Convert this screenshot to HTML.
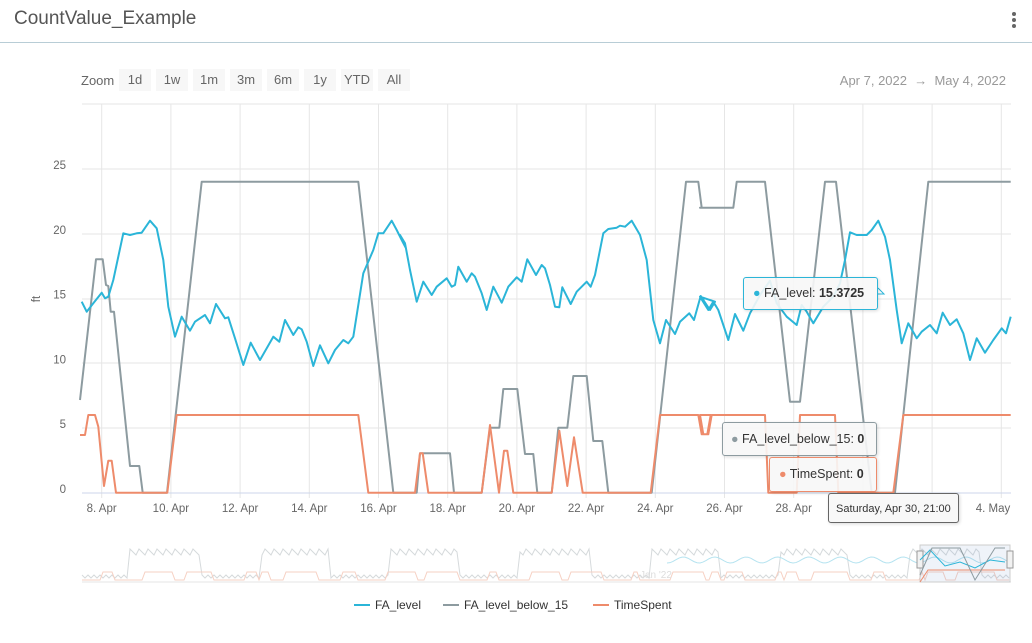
<!DOCTYPE html>
<html><head><meta charset="utf-8"><style>
body{margin:0;width:1032px;height:643px;background:#fff;font-family:"Liberation Sans",sans-serif;overflow:hidden;position:relative}
.t{position:absolute;white-space:nowrap}
.btn{position:absolute;top:69px;height:22px;width:32px;background:#f7f7f7;color:#666;font-size:13px;line-height:22px;text-align:center}
.tip{position:absolute;background:rgba(247,247,247,0.9);border:1px solid;border-radius:3px;font-size:12.5px;color:#333;box-sizing:border-box;box-shadow:1px 1px 3px rgba(0,0,0,.15)}
</style></head><body>
<div class="t" style="left:14px;top:8px;font-size:19px;color:#555">CountValue_Example</div>
<div style="position:absolute;left:0;top:42px;width:1032px;height:1px;background:#b8cdd6"></div>
<div style="position:absolute;left:1012px;top:12px;width:4px;height:4px;border-radius:2px;background:#666;box-shadow:0 6px 0 #666,0 12px 0 #666"></div>
<div class="t" style="left:81px;top:73px;font-size:13px;color:#666">Zoom</div>
<div class="btn" style="left:119px">1d</div><div class="btn" style="left:156px">1w</div><div class="btn" style="left:193px">1m</div><div class="btn" style="left:230px">3m</div><div class="btn" style="left:267px">6m</div><div class="btn" style="left:304px">1y</div><div class="btn" style="left:341px">YTD</div><div class="btn" style="left:378px">All</div>
<div class="t" style="right:26px;top:73px;font-size:13px;color:#999">Apr 7, 2022 &nbsp;→&nbsp; May 4, 2022</div>
<svg id="s" width="1032" height="643" style="position:absolute;left:0;top:0" font-family="Liberation Sans, sans-serif"></svg>
<div class="tip" style="left:743px;top:277px;width:135px;height:33px;border-color:#2bb5d8;padding:8px 0 0 9px"><span style="color:#2bb5d8">●</span> FA_level: <span style="font-weight:600">15.3725</span></div>
<div class="tip" style="left:722px;top:422px;width:155px;height:34px;border-color:#8d9ba0;padding:9px 0 0 8px"><span style="color:#8d9ba0">●</span> FA_level_below_15: <span style="font-weight:600">0</span></div>
<div class="tip" style="left:769px;top:457px;width:108px;height:35px;border-color:#ee8b6b;padding:9px 0 0 9px"><span style="color:#ee8b6b">●</span> TimeSpent: <span style="font-weight:600">0</span></div>
<div class="tip" style="left:828px;top:493px;width:131px;height:30px;border-color:#666;font-size:11px;padding:9px 0 0 7px;background:#f8f8f8">Saturday, Apr 30, 21:00</div>
<script>
const s=document.getElementById('s');let h='';
const ygrid=[104,169,234,299,363,428];
ygrid.forEach(y=>h+=`<line x1="82" x2="1011" y1="${y}" y2="${y}" stroke="#e6e6e6"/>`);
for(let i=0;i<14;i++){const x=101.7+i*69.2;h+=`<line x1="${x}" x2="${x}" y1="104" y2="498" stroke="#e6e6e6"/>`;}
h+=`<line x1="82" x2="1011" y1="493" y2="493" stroke="#ccd6eb"/>`;
['25','20','15','10','5','0'].forEach((l,i)=>h+=`<text x="66" y="${169+i*64.8}" text-anchor="end" font-size="11.5" fill="#666">${l}</text>`);
h+=`<text x="40" y="299" font-size="11.5" fill="#666" transform="rotate(-90 40 299)" text-anchor="middle">ft</text>`;
const xl=['8. Apr','10. Apr','12. Apr','14. Apr','16. Apr','18. Apr','20. Apr','22. Apr','24. Apr','26. Apr','28. Apr','30. Apr','2. May','4. May'];
xl.forEach((l,i)=>{let x=101.7+i*69.2;if(i==13)x=993;if(i==11||i==12)return;h+=`<text x="${x}" y="512" text-anchor="middle" font-size="11.5" fill="#666">${l}</text>`;});
function P(segs){let p=[];segs.forEach(([ox,oy,a])=>{for(let i=0;i<a.length;i+=2)p.push((ox+a[i]/3).toFixed(1)+','+(oy+a[i+1]/3).toFixed(1));});return p.join(' ');}
const grey=P([[80,160,[0,720,48,298,68,298,78,375,85,378,92,455,102,455,150,918,178,918,188,998,261,998,365,65,835,65,940,998]],
[400,160,[50,998,60,880,150,880,162,998,245,998,270,803,298,803,310,687,352,687,375,882,400,882,412,998,455,998,475,803,502,803,520,648,560,648,580,843,607,843,625,998,755,998,858,65,895,65,905,143]],
[700,160,[0,143,100,143,110,65,195,65,270,725,300,725,375,65,408,65,515,998,585,998,685,65,932,65]]]);
const org=P([[80,160,[0,825,15,825,25,765,45,765,55,800,72,978,85,902,95,902,108,998,262,998,290,765,835,765,865,998]],
[400,160,[0,998,45,998,60,880,68,880,85,998,245,998,270,795,297,998,312,872,322,872,340,998,455,998,478,812,502,978,522,832,548,998,752,998,780,765,895,765,905,823,922,823,932,765]],
[700,160,[0,765,10,823,25,823,35,765,195,765,205,998,290,998,300,765,405,765,415,998,580,998,610,765,932,765]]]);
const fa=P([[80,160,[5,425,20,455,40,430,65,398,75,415,85,410,100,360,130,220,150,225,170,220,185,218,210,182,230,205,250,300,265,440,285,530,305,470,330,512,345,485,375,465,390,490,408,432,435,475,445,472,465,535,490,615,512,548,540,600,580,530,598,545,615,480,640,525,655,502,665,508,680,545,700,618,720,556,745,610,765,570,790,540,805,550,820,530,850,340,880,270,895,220,910,220,935,182,950,210,965,240,978,265]],
[400,160,[0,225,15,250,30,330,50,425,70,365,95,405,110,380,140,355,155,380,165,375,175,320,200,365,215,340,225,350,245,400,260,450,280,380,305,428,325,380,350,352,365,365,382,298,408,345,425,315,435,325,450,375,465,440,478,442,487,382,512,432,530,395,560,365,572,380,585,345,610,220,625,207,650,203,660,197,675,200,695,182,720,225,740,300,760,480,780,550,798,480,825,522,840,485,868,460,882,480,902,408,930,450,945,425]],
[700,160,[0,410,25,450,40,425,55,450,85,540,105,462,130,512,150,460,180,405,210,362,230,430,260,470,290,495,305,435,320,455,340,490,370,440,400,410,420,370,435,300,450,217,470,225,500,225,515,210,535,182,555,230,570,300,590,450,605,550,625,490,650,535,665,515,690,495,710,520,728,458,750,495,770,478,790,520,810,600,830,535,855,578,880,540,905,505,918,520,932,470]]]);
const L='fill="none" stroke-width="2" stroke-linejoin="round"';
h+=`<polyline points="${grey}" stroke="#8d9ba0" ${L}/><polyline points="${fa}" stroke="#2bb5d8" ${L}/><polyline points="${org}" stroke="#ee8b6b" ${L}/>`;
h+=`<polyline points="877,294 884,294 878,288" fill="none" stroke="#2bb5d8"/>`;
h+=`<rect x="82" y="540" width="929" height="42" fill="#fff"/><line x1="82" x2="1011" y1="582" y2="582" stroke="#e6e6e6"/>`;
let g='',o='',f='';
for(let x=82;x<=1011;x+=3){const k=Math.sin(x*0.13)+Math.sin(x*0.047)*0.8+Math.sin(x*0.31)*0.5;
 const on=((x%130)<70);g+=`${x},${on?548+((x*7)%9):575+((x*3)%6)} `;o+=`${x},${k>0?572:580} `;f+=`${x},${560+Math.sin(x*0.2)*3} `;}
h+=`<polyline points="${g}" fill="none" stroke="#d6dadc" stroke-width="1"/><polyline points="${o}" fill="none" stroke="#f6d0c3" stroke-width="1"/>`;
h+=`<polyline points="${f.split(' ').filter(p=>p&&+p.split(',')[0]>665).join(' ')}" fill="none" stroke="#b5e3f0" stroke-width="1"/>`;
h+=`<rect x="920" y="545" width="90" height="37" fill="rgba(102,133,194,0.1)" stroke="#ccc"/>`;
h+=`<rect x="917" y="551" width="6" height="17" fill="#f2f2f2" stroke="#999"/><rect x="1007" y="551" width="6" height="17" fill="#f2f2f2" stroke="#999"/>`;
h+=`<polyline points="920,560 930,550 945,566 960,562 975,568 990,560 1005,562" fill="none" stroke="#2bb5d8" stroke-width="1"/><polyline points="920,582 928,570 1005,570" fill="none" stroke="#ee8b6b" stroke-width="1"/><polyline points="920,575 932,548 960,548 975,580 995,548 1005,548" fill="none" stroke="#8d9ba0" stroke-width="1"/>`;
h+=`<text x="640" y="578" font-size="10" fill="#ddd">Jan '22</text>`;
h+=`<line x1="354" x2="370" y1="605" y2="605" stroke="#2bb5d8" stroke-width="2"/><text x="375" y="609" font-size="12" fill="#333">FA_level</text>`;
h+=`<line x1="443" x2="459" y1="605" y2="605" stroke="#8d9ba0" stroke-width="2"/><text x="464" y="609" font-size="12" fill="#333">FA_level_below_15</text>`;
h+=`<line x1="593" x2="609" y1="605" y2="605" stroke="#ee8b6b" stroke-width="2"/><text x="614" y="609" font-size="12" fill="#333">TimeSpent</text>`;
s.innerHTML=h;
</script>
</body></html>
